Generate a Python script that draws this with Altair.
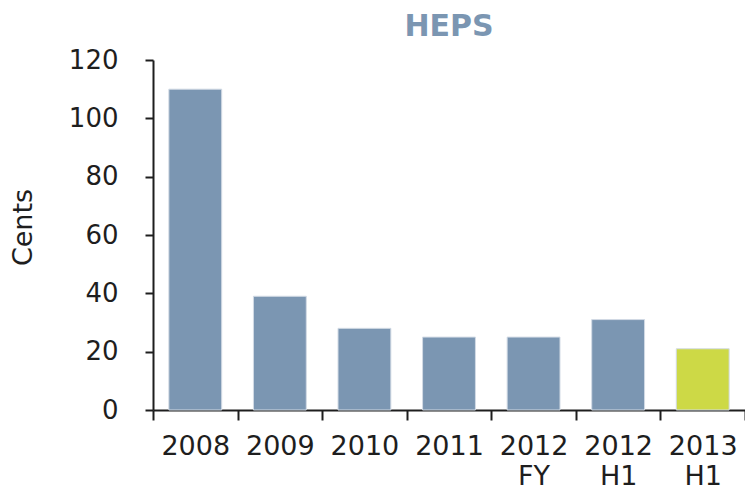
import altair as alt
import pandas as pd

categories = ["2008", "2009", "2010", "2011", "2012 FY", "2012 H1", "2013 H1"]
values = [110, 39, 28, 25, 25, 31, 21]
groups = ["base", "base", "base", "base", "base", "base", "highlight"]

df = pd.DataFrame({"period": categories, "cents": values, "group": groups})

FONT = "DejaVu Sans"
TXT = "#1e1e1e"

chart = (
    alt.Chart(df)
    .mark_bar(stroke="#d3dbe5", strokeWidth=1, width=alt.RelativeBandSize(0.625))
    .encode(
        x=alt.X(
            "period:N",
            sort=categories,
            title=None,
            scale=alt.Scale(paddingInner=0, paddingOuter=0),
            axis=alt.Axis(
                labelAngle=0,
                labelExpr="split(datum.label, ' ')",
                labelFontSize=27,
                labelLineHeight=30,
                labelPadding=13,
                labelColor=TXT,
                labelFont=FONT,
                tickBand="extent",
                tickSize=10,
                tickWidth=2,
                tickColor=TXT,
                domainColor=TXT,
                domainWidth=2,
                grid=False,
            ),
        ),
        y=alt.Y(
            "cents:Q",
            title="Cents",
            scale=alt.Scale(domain=[0, 120]),
            axis=alt.Axis(
                values=[0, 20, 40, 60, 80, 100, 120],
                labelFontSize=26,
                labelPadding=27,
                labelColor=TXT,
                labelFont=FONT,
                tickSize=8,
                tickWidth=2,
                tickColor=TXT,
                domainColor=TXT,
                domainWidth=2,
                grid=False,
                titleFontSize=27,
                titleFontWeight="normal",
                titleFont=FONT,
                titleColor=TXT,
                titlePadding=31,
                titleY=167,
            ),
        ),
        color=alt.Color(
            "group:N",
            scale=alt.Scale(domain=["base", "highlight"], range=["#7b96b2", "#cdd946"]),
            legend=None,
        ),
    )
    .properties(
        width=592,
        height=350,
        autosize=alt.AutoSizeParams(type="none"),
        padding={"left": 145, "right": 0, "top": 52, "bottom": 82},
        title=alt.TitleParams(
            "HEPS",
            fontSize=30,
            fontWeight="bold",
            font=FONT,
            color="#7b96b2",
            anchor="middle",
            offset=5,
        ),
    )
    .configure_view(stroke=None)
)

chart.save("out.html", embed_options={"renderer": "svg", "actions": False})
